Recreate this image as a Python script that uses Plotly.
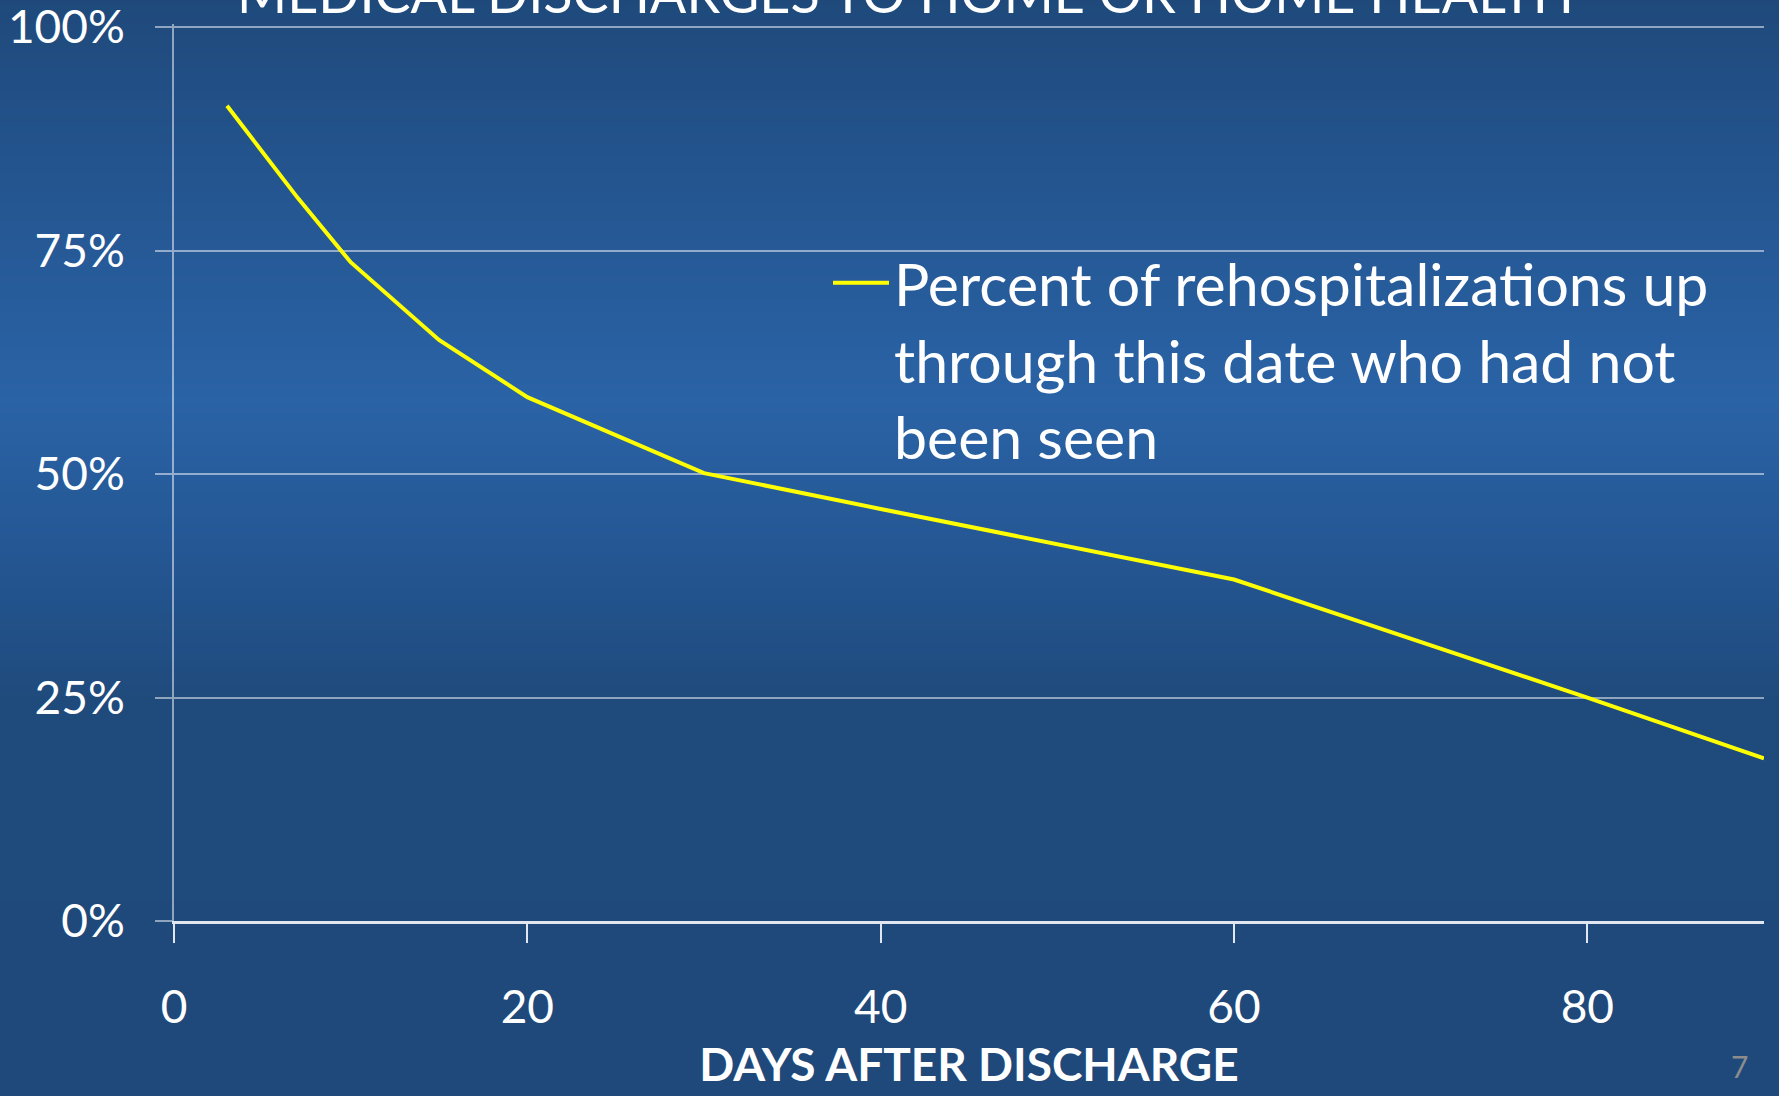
import plotly.graph_objects as go

# Days after discharge and share of rehospitalizations (up to that day) not yet seen
days = [3, 7, 10, 15, 20, 30, 40, 50, 60, 70, 80, 90]
pct_not_seen = [91.2, 80.9, 73.7, 65.0, 58.6, 50.1, 46.1, 42.2, 38.2, 31.6, 25.0, 18.2]

series_name = "Percent of rehospitalizations up<br>through this date who had not<br>been seen"
chart_title = "MEDICAL DISCHARGES TO HOME OR HOME HEALTH"
x_title = "DAYS AFTER DISCHARGE"
y_ticks = [0, 25, 50, 75, 100]
y_tick_text = ["0%", "25%", "50%", "75%", "100%"]
x_ticks = [0, 20, 40, 60, 80]
page_number = "7"

W, H = 1779, 1096
# a little headroom above 100% so its gridline is not clipped at the plot edge
Y_MAX = 100.35
M_L, M_R, M_T, M_B = 174, 15, 24, 175
FONT = "Lato"

# Vertical background gradient (pixel offset from top -> rgb)
grad_stops = [
    (0, (31, 73, 123)),
    (150, (35, 83, 140)),
    (400, (42, 99, 166)),
    (560, (36, 86, 146)),
    (700, (31, 74, 124)),
    (1096, (31, 73, 123)),
]


def grad_color(py):
    for (p0, c0), (p1, c1) in zip(grad_stops[:-1], grad_stops[1:]):
        if p0 <= py <= p1:
            t = (py - p0) / (p1 - p0)
            return "rgb(%d,%d,%d)" % tuple(round(a + (b - a) * t) for a, b in zip(c0, c1))
    return "rgb(%d,%d,%d)" % grad_stops[-1][1]


plot_h = H - M_T - M_B
plot_w = W - M_L - M_R


def py_to_paper(py):
    return (H - M_B - py) / plot_h


band = 6
shapes = []
for top in range(0, H, band):
    bottom = min(top + band, H)
    shapes.append(dict(
        type="rect", xref="paper", yref="paper",
        x0=-0.2, x1=1.1,
        y0=py_to_paper(bottom + 1), y1=py_to_paper(top),
        fillcolor=grad_color((top + bottom) / 2),
        line=dict(width=0), layer="below",
    ))

grid_col = "rgba(255,255,255,0.5)"

fig = go.Figure()
fig.add_trace(go.Scatter(
    x=days, y=pct_not_seen, mode="lines", name=series_name,
    line=dict(color="#ffff00", width=4),
))

fig.update_layout(
    width=W, height=H,
    margin=dict(l=M_L, r=M_R, t=M_T, b=M_B, pad=0, autoexpand=False),
    paper_bgcolor="rgb(31,73,123)",
    plot_bgcolor="rgba(0,0,0,0)",
    font=dict(family=FONT, color="white"),
    shapes=shapes,
    showlegend=True,
    legend=dict(
        x=(828 - M_L) / plot_w, xanchor="left",
        y=py_to_paper(238), yanchor="top",
        bgcolor="rgba(0,0,0,0)", borderwidth=0,
        font=dict(family=FONT, size=59, color="white"),
        valign="top", itemwidth=56,
    ),
    xaxis=dict(
        range=[0, 90], tickmode="array", tickvals=x_ticks,
        automargin=False,
        showgrid=False, zeroline=False,
        showline=True, linecolor="rgba(235,240,248,0.95)", linewidth=3,
        ticks="outside", ticklen=19, tickwidth=2, tickcolor="rgba(235,240,248,0.95)",
        tickfont=dict(family=FONT, size=46, color="white"),
        ticklabelstandoff=25,
        title=dict(text=x_title, standoff=17,
                   font=dict(family=FONT, size=46, color="white", weight="bold")),
    ),
    yaxis=dict(
        range=[0, Y_MAX], tickmode="array", tickvals=y_ticks, ticktext=y_tick_text,
        automargin=False,
        showgrid=True, gridcolor=grid_col, gridwidth=2,
        zeroline=False,
        showline=True, linecolor=grid_col, linewidth=2,
        ticks="outside", ticklen=17, tickwidth=2, tickcolor=grid_col,
        tickfont=dict(family=FONT, size=46, color="white"),
        ticklabelstandoff=21, ticklabeloverflow="allow",
    ),
    annotations=[
        dict(text=chart_title, xref="paper", yref="paper",
             x=(905 - M_L) / plot_w, y=py_to_paper(27), xanchor="center", yanchor="bottom",
             showarrow=False, font=dict(family=FONT, size=54, color="white")),
        dict(text=page_number, xref="paper", yref="paper",
             x=(1739 - M_L) / plot_w, y=py_to_paper(1066), xanchor="center", yanchor="middle",
             showarrow=False, font=dict(family=FONT, size=30, color="#8c8c8c")),
    ],
)

fig.write_html("out.html")
